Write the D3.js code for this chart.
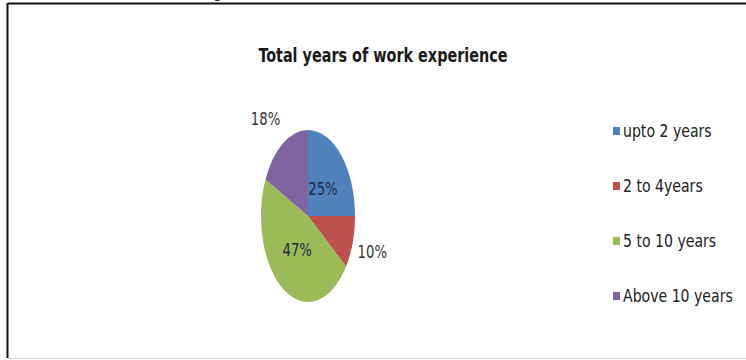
<!DOCTYPE html>
<html>
<head>
<meta charset="utf-8">
<script src="https://cdn.jsdelivr.net/npm/d3@7"></script>
<style>
  html, body { margin: 0; padding: 0; background: #fff; }
  svg { display: block; }
  text { font-family: "DejaVu Sans Condensed", "Liberation Sans Narrow", sans-serif; fill: #222; }
</style>
</head>
<body>
<div id="chart"></div>
<script>
// ── Data ────────────────────────────────────────────────────────────────────
const categories = ["upto 2 years", "2 to 4years", "5 to 10 years", "Above 10 years"];
const values     = [25, 10, 47, 18];
const colors     = ["#4f81bd", "#c0504d", "#9bbb59", "#8064a2"];
const labelInside = [true, false, true, false];
const title = "Total years of work experience";

// ── Dimensions ─────────────────────────────────────────────────────────────
const width = 746, height = 360;
const cx = 308, cy = 216;      // pie centre
const rx = 47,  ry = 86;        // the pie is drawn stretched into an ellipse

const svg = d3.select("#chart").append("svg")
  .attr("width", width)
  .attr("height", height);

// squeeze text horizontally around its anchor, the original uses a narrow face
function narrow(sel, f) {
  sel.each(function () {
    const t = d3.select(this);
    const x = +t.attr("x") || 0, y = +t.attr("y") || 0;
    const base = t.attr("transform") || "";
    t.attr("x", 0).attr("y", 0)
      .attr("transform", `${base} translate(${x},${y}) scale(${f},1)`);
  });
}

// frame
svg.append("line").attr("x1", 8).attr("x2", width).attr("y1", 3.5).attr("y2", 3.5)
  .attr("stroke", "#111").attr("stroke-width", 2);
svg.append("line").attr("x1", 7.5).attr("x2", 7.5).attr("y1", 3).attr("y2", 358)
  .attr("stroke", "#111").attr("stroke-width", 2);
svg.append("line").attr("x1", 8).attr("x2", width).attr("y1", 358.5).attr("y2", 358.5)
  .attr("stroke", "#d6d6d6").attr("stroke-width", 1);

// tail of the caption cut off above the frame
svg.append("text").attr("x", 213).attr("y", -2)
  .style("font-size", "16px").text("g");

// title
svg.append("text")
  .attr("x", 383).attr("y", 62)
  .attr("text-anchor", "middle")
  .style("font-size", "20px").style("font-weight", "bold").style("fill", "#1a1a1a")
  .text(title)
  .call(narrow, 0.8);

// ── Pie ─────────────────────────────────────────────────────────────────────
const pie = d3.pie().sort(null).value(d => d)(values);
const arc = d3.arc().innerRadius(0).outerRadius(ry);

const pieG = svg.append("g")
  .attr("transform", `translate(${cx},${cy}) scale(${rx / ry},1)`);

pieG.selectAll("path")
  .data(pie)
  .join("path")
  .attr("d", arc)
  .attr("fill", (d, i) => colors[i]);

// label position on the ellipse at fractions kx, ky of the radii
function labelPos(d, kx, ky) {
  const a = (d.startAngle + d.endAngle) / 2;
  return [cx + Math.sin(a) * rx * kx, cy - Math.cos(a) * ry * ky];
}

svg.selectAll(".slice-label")
  .data(pie)
  .join("text")
  .attr("class", "slice-label")
  .each(function (d, i) {
    const inside = labelInside[i];
    const [x, y] = inside ? labelPos(d, 0.45, 0.45) : labelPos(d, 1.22, 1.34);
    const right = Math.sin((d.startAngle + d.endAngle) / 2) > 0;
    d3.select(this)
      .attr("x", inside ? x : (right ? x - 5 : x + 3))
      .attr("y", y)
      .attr("dy", "0.35em")
      .attr("text-anchor", inside ? "middle" : (right ? "start" : "end"));
  })
  .style("font-size", "18px")
  .style("fill", (d, i) => labelInside[i] ? "#1f2a44" : "#333")
  .text(d => d.data + "%")
  .call(narrow, 0.82);

// ── Legend ─────────────────────────────────────────────────────────────────
const legendY = d3.scalePoint().domain(categories).range([131, 296]);

const legend = svg.selectAll(".legend")
  .data(categories)
  .join("g")
  .attr("class", "legend")
  .attr("transform", d => `translate(613,${legendY(d)})`);

legend.append("rect")
  .attr("x", 0).attr("y", -4)
  .attr("width", 7).attr("height", 8)
  .attr("fill", (d, i) => colors[i]);

legend.append("text")
  .attr("x", 10).attr("y", 0).attr("dy", "0.35em")
  .style("font-size", "18px")
  .text(d => d)
  .call(narrow, 0.87);
</script>
</body>
</html>
